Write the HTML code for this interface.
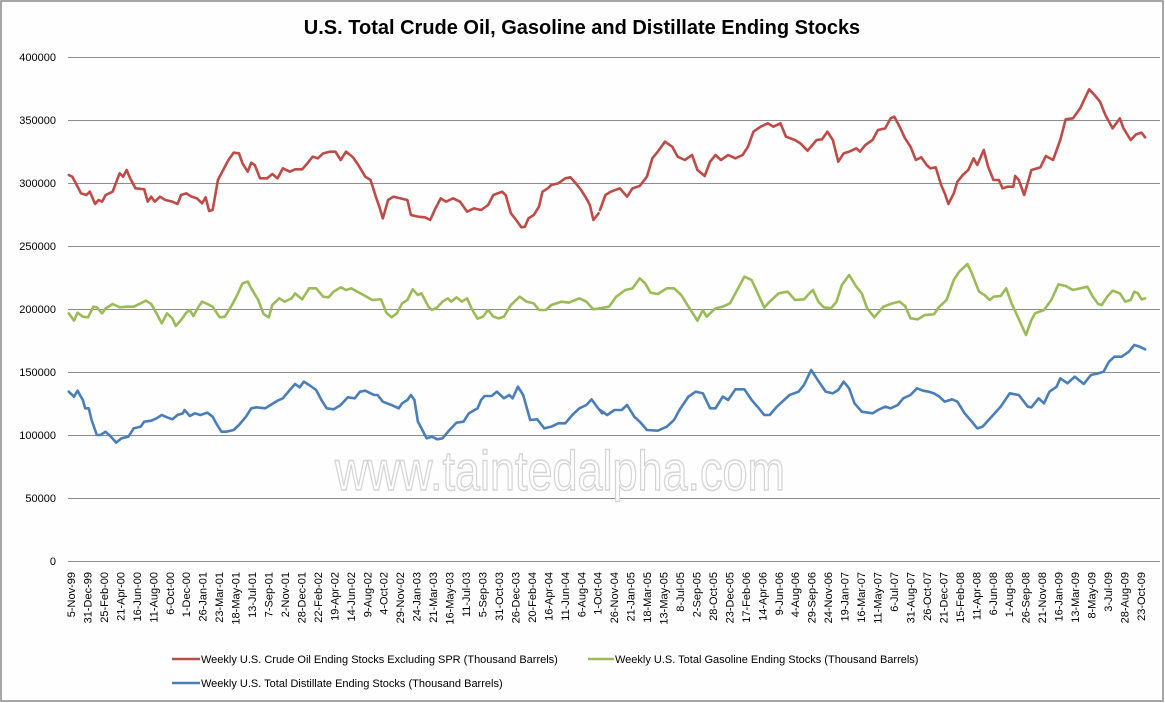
<!DOCTYPE html>
<html><head><meta charset="utf-8"><style>
html,body{margin:0;padding:0;background:#fff}
svg{display:block;font-family:"Liberation Sans",sans-serif}
</style></head><body>
<svg width="1165" height="703" viewBox="0 0 1165 703" xmlns="http://www.w3.org/2000/svg">
<rect x="1" y="1" width="1162" height="700" fill="#fdfefd" stroke="#8a8a8a" stroke-width="1.5"/>
<text x="582" y="34" text-anchor="middle" font-size="20" font-weight="bold" fill="#000">U.S. Total Crude Oil, Gasoline and Distillate Ending Stocks</text>
<g stroke="#8c8c8c" stroke-width="1">
<line x1="68" x2="1160" y1="57.5" y2="57.5"/><line x1="68" x2="1160" y1="120.5" y2="120.5"/>
<line x1="68" x2="1160" y1="183.5" y2="183.5"/><line x1="68" x2="1160" y1="246.5" y2="246.5"/>
<line x1="68" x2="1160" y1="309.5" y2="309.5"/><line x1="68" x2="1160" y1="372.5" y2="372.5"/>
<line x1="68" x2="1160" y1="435.5" y2="435.5"/><line x1="68" x2="1160" y1="498.5" y2="498.5"/>
<line x1="68" x2="1160" y1="561.5" y2="561.5"/>
</g>
<g font-size="11" text-anchor="end" fill="#000">
<text x="56" y="61">400000</text><text x="56" y="124">350000</text><text x="56" y="187">300000</text>
<text x="56" y="250">250000</text><text x="56" y="313">200000</text><text x="56" y="376">150000</text>
<text x="56" y="439">100000</text><text x="56" y="502">50000</text><text x="56" y="565">0</text>
</g>
<text x="560" y="490" text-anchor="middle" font-size="56" textLength="450" lengthAdjust="spacingAndGlyphs" fill="#ffffff" stroke="#d4d4d4" stroke-width="1.5">www.taintedalpha.com</text>
<g fill="none" stroke-width="2.6" stroke-linejoin="round" stroke-linecap="round">
<g transform="translate(60,80) scale(0.3509,0.33333)">
<polyline vector-effect="non-scaling-stroke" stroke="#be4b48" points="25,285 35,290 50,320 60,340 75,345 85,335 100,372 110,360 120,365 130,345 150,335 170,280 180,290 190,270 200,295 215,325 240,328 250,365 260,350 270,365 285,350 300,360 320,365 335,372 345,345 360,340 375,350 390,355 405,370 415,352 425,393 435,390 450,300 465,270 480,240 495,218 510,220 520,250 535,275 545,248 555,255 570,295 590,295 605,282 620,295 635,265 655,275 670,268 690,268 705,250 720,230 735,235 750,220 770,215 785,215 800,240 815,215 835,232 850,255 870,290 885,300 900,350 910,380 920,415 935,360 950,350 970,355 990,360 1000,405 1020,410 1040,412 1055,420 1070,385 1085,355 1100,365 1120,355 1140,365 1160,395 1180,385 1200,390 1220,375 1235,345 1260,335 1270,345 1285,400 1300,420 1315,442 1325,440 1335,415 1350,405 1365,380 1375,335 1390,325 1400,315 1420,310 1440,295 1455,292 1470,310 1485,330 1500,355 1510,375 1520,420 1535,400"/>
<polyline vector-effect="non-scaling-stroke" stroke="#9bbb59" points="25,700 40,722 50,698 65,710 80,712 95,680 105,682 120,700 130,685 150,672 170,682 190,680 210,680 245,662 260,672 275,700 290,730 305,700 320,715 330,738 345,720 360,698 370,690 380,708 395,680 405,665 420,672 435,680 455,712 470,710 490,675 505,645 520,610 535,605 545,625 565,660 580,702 595,712 605,675 625,655 640,665 660,655 670,640 690,658 710,625 730,625 750,650 765,652 780,635 800,622 815,630 830,625 870,648 890,660 915,658 930,698 945,712 960,700 975,670 990,660 1005,628 1020,645 1030,640 1050,680 1060,690 1075,682 1090,665 1105,655 1115,665 1130,652 1145,665 1160,655 1175,690 1190,716 1205,710 1220,690 1235,710 1250,715 1265,710 1285,675 1310,650 1330,665 1350,670 1365,690 1385,690 1400,675 1430,665 1450,668 1480,655 1500,665 1520,688 1540,685"/>
<polyline vector-effect="non-scaling-stroke" stroke="#4a7ebb" points="25,935 40,950 50,932 65,960 72,985 82,985 90,1020 105,1065 115,1065 130,1055 145,1070 160,1088 175,1075 195,1070 210,1045 230,1040 240,1025 260,1022 275,1015 290,1005 305,1012 320,1018 335,1005 350,1000 355,990 370,1008 385,1000 400,1005 420,998 435,1010 445,1030 460,1055 475,1055 495,1050 510,1035 530,1010 545,985 560,982 585,985 600,975 620,962 635,955 655,930 670,912 683,922 695,905 710,915 730,930 745,960 760,985 780,988 800,975 820,952 840,955 855,935 870,932 885,940 895,945 905,945 920,965 945,975 965,985 975,970 990,960 1000,945 1010,960 1020,1025 1035,1055 1045,1075 1060,1070 1075,1078 1090,1075 1110,1050 1130,1028 1150,1025 1165,1000 1190,985 1200,960 1210,948 1230,948 1245,935 1265,955 1280,945 1290,955 1305,920 1320,945 1340,1020 1360,1018 1380,1045 1400,1040 1420,1030 1440,1030 1460,1005 1480,985 1500,975 1515,958 1530,980 1545,1000"/>
</g>
<g transform="translate(600,80) scale(0.361,0.33333)">
<polyline vector-effect="non-scaling-stroke" stroke="#be4b48" points="0,390 15,345 30,335 55,325 75,350 90,325 110,318 130,290 145,235 160,215 180,185 200,200 215,230 235,240 255,225 270,270 290,288 305,245 320,225 335,240 355,225 375,235 395,225 410,200 425,155 445,140 465,130 480,140 500,130 515,170 540,180 555,190 575,212 600,180 615,178 630,155 645,180 660,245 675,220 690,215 710,205 720,215 735,195 755,180 770,150 790,145 805,115 815,110 830,140 845,175 860,200 875,240 890,232 905,255 915,265 930,262 945,315 955,340 965,372 980,340 990,305 1005,285 1020,270 1035,235 1045,255 1063,210 1075,260 1090,300 1105,300 1115,325 1130,320 1145,320 1150,288 1160,300 1175,345 1195,270 1220,262 1235,228 1255,240 1275,180 1290,118 1310,115 1330,85 1355,28 1370,45 1385,65 1400,105 1420,145 1440,115 1450,145 1470,180 1485,163 1500,158 1510,172"/>
<polyline vector-effect="non-scaling-stroke" stroke="#9bbb59" points="0,685 25,680 45,650 70,630 90,625 110,595 125,610 140,638 160,642 185,625 205,625 225,645 245,680 260,705 270,722 285,690 295,710 320,685 340,680 360,670 380,630 400,590 420,600 435,635 455,683 470,665 495,640 520,635 540,660 565,658 580,640 590,630 605,665 620,682 640,685 655,665 670,615 690,585 710,620 725,640 740,685 760,712 785,680 810,670 830,665 845,678 860,715 880,718 900,705 925,703 940,680 960,660 980,600 995,575 1018,552 1030,580 1050,635 1065,645 1080,660 1090,650 1110,648 1125,625 1140,670 1155,705 1180,765 1195,720 1205,700 1230,690 1250,660 1270,613 1290,618 1310,630 1330,625 1350,620 1365,650 1380,672 1390,675 1405,650 1420,632 1440,640 1455,665 1470,660 1480,635 1490,640 1500,658 1510,655"/>
<polyline vector-effect="non-scaling-stroke" stroke="#4a7ebb" points="0,990 20,1005 40,990 60,990 75,975 95,1010 110,1025 130,1050 160,1052 185,1040 205,1020 220,990 245,950 265,935 285,940 305,985 320,985 340,950 355,960 375,928 400,928 420,960 440,985 455,1005 470,1005 490,980 510,960 525,945 550,935 565,915 585,870 600,895 625,935 645,940 660,930 675,905 690,925 705,970 725,995 755,1000 770,990 790,980 805,985 825,975 840,955 860,945 878,925 895,932 910,935 925,940 940,950 955,965 975,958 990,965 1010,1000 1030,1025 1045,1045 1060,1040 1085,1010 1110,980 1135,940 1160,945 1185,980 1195,982 1215,955 1230,970 1245,935 1265,920 1275,895 1295,910 1315,890 1340,912 1360,885 1380,880 1395,875 1410,845 1425,830 1445,830 1465,815 1480,795 1495,800 1510,808"/>
</g>
</g>
<g font-size="11" text-anchor="end" fill="#000">
<text transform="translate(75,572) rotate(-90)">5-Nov-99</text>
<text transform="translate(91.5,572) rotate(-90)">31-Dec-99</text>
<text transform="translate(107.9,572) rotate(-90)">25-Feb-00</text>
<text transform="translate(124.4,572) rotate(-90)">21-Apr-00</text>
<text transform="translate(140.8,572) rotate(-90)">16-Jun-00</text>
<text transform="translate(157.3,572) rotate(-90)">11-Aug-00</text>
<text transform="translate(173.8,572) rotate(-90)">6-Oct-00</text>
<text transform="translate(190.2,572) rotate(-90)">1-Dec-00</text>
<text transform="translate(206.7,572) rotate(-90)">26-Jan-01</text>
<text transform="translate(223.1,572) rotate(-90)">23-Mar-01</text>
<text transform="translate(239.6,572) rotate(-90)">18-May-01</text>
<text transform="translate(256.1,572) rotate(-90)">13-Jul-01</text>
<text transform="translate(272.5,572) rotate(-90)">7-Sep-01</text>
<text transform="translate(289,572) rotate(-90)">2-Nov-01</text>
<text transform="translate(305.4,572) rotate(-90)">28-Dec-01</text>
<text transform="translate(321.9,572) rotate(-90)">22-Feb-02</text>
<text transform="translate(338.4,572) rotate(-90)">19-Apr-02</text>
<text transform="translate(354.8,572) rotate(-90)">14-Jun-02</text>
<text transform="translate(371.3,572) rotate(-90)">9-Aug-02</text>
<text transform="translate(387.7,572) rotate(-90)">4-Oct-02</text>
<text transform="translate(404.2,572) rotate(-90)">29-Nov-02</text>
<text transform="translate(420.7,572) rotate(-90)">24-Jan-03</text>
<text transform="translate(437.1,572) rotate(-90)">21-Mar-03</text>
<text transform="translate(453.6,572) rotate(-90)">16-May-03</text>
<text transform="translate(470,572) rotate(-90)">11-Jul-03</text>
<text transform="translate(486.5,572) rotate(-90)">5-Sep-03</text>
<text transform="translate(503,572) rotate(-90)">31-Oct-03</text>
<text transform="translate(519.4,572) rotate(-90)">26-Dec-03</text>
<text transform="translate(535.9,572) rotate(-90)">20-Feb-04</text>
<text transform="translate(552.3,572) rotate(-90)">16-Apr-04</text>
<text transform="translate(568.8,572) rotate(-90)">11-Jun-04</text>
<text transform="translate(585.3,572) rotate(-90)">6-Aug-04</text>
<text transform="translate(601.7,572) rotate(-90)">1-Oct-04</text>
<text transform="translate(618.2,572) rotate(-90)">26-Nov-04</text>
<text transform="translate(634.6,572) rotate(-90)">21-Jan-05</text>
<text transform="translate(651.1,572) rotate(-90)">18-Mar-05</text>
<text transform="translate(667.6,572) rotate(-90)">13-May-05</text>
<text transform="translate(684,572) rotate(-90)">8-Jul-05</text>
<text transform="translate(700.5,572) rotate(-90)">2-Sep-05</text>
<text transform="translate(716.9,572) rotate(-90)">28-Oct-05</text>
<text transform="translate(733.4,572) rotate(-90)">23-Dec-05</text>
<text transform="translate(749.9,572) rotate(-90)">17-Feb-06</text>
<text transform="translate(766.3,572) rotate(-90)">14-Apr-06</text>
<text transform="translate(782.8,572) rotate(-90)">9-Jun-06</text>
<text transform="translate(799.2,572) rotate(-90)">4-Aug-06</text>
<text transform="translate(815.7,572) rotate(-90)">29-Sep-06</text>
<text transform="translate(832.2,572) rotate(-90)">24-Nov-06</text>
<text transform="translate(848.6,572) rotate(-90)">19-Jan-07</text>
<text transform="translate(865.1,572) rotate(-90)">16-Mar-07</text>
<text transform="translate(881.5,572) rotate(-90)">11-May-07</text>
<text transform="translate(898,572) rotate(-90)">6-Jul-07</text>
<text transform="translate(914.5,572) rotate(-90)">31-Aug-07</text>
<text transform="translate(930.9,572) rotate(-90)">26-Oct-07</text>
<text transform="translate(947.4,572) rotate(-90)">21-Dec-07</text>
<text transform="translate(963.8,572) rotate(-90)">15-Feb-08</text>
<text transform="translate(980.3,572) rotate(-90)">11-Apr-08</text>
<text transform="translate(996.8,572) rotate(-90)">6-Jun-08</text>
<text transform="translate(1013.2,572) rotate(-90)">1-Aug-08</text>
<text transform="translate(1029.7,572) rotate(-90)">26-Sep-08</text>
<text transform="translate(1046.1,572) rotate(-90)">21-Nov-08</text>
<text transform="translate(1062.6,572) rotate(-90)">16-Jan-09</text>
<text transform="translate(1079.1,572) rotate(-90)">13-Mar-09</text>
<text transform="translate(1095.5,572) rotate(-90)">8-May-09</text>
<text transform="translate(1112,572) rotate(-90)">3-Jul-09</text>
<text transform="translate(1128.4,572) rotate(-90)">28-Aug-09</text>
<text transform="translate(1144.9,572) rotate(-90)">23-Oct-09</text>
</g>
<g stroke-width="2.6">
<line x1="172" x2="200" y1="659" y2="659" stroke="#be4b48"/>
<line x1="588" x2="614" y1="659" y2="659" stroke="#9bbb59"/>
<line x1="172" x2="200" y1="683" y2="683" stroke="#4a7ebb"/>
</g>
<g font-size="11" fill="#000">
<text x="201" y="663">Weekly U.S. Crude Oil Ending Stocks Excluding SPR  (Thousand Barrels)</text>
<text x="615" y="663">Weekly U.S. Total Gasoline Ending Stocks  (Thousand Barrels)</text>
<text x="201" y="687">Weekly U.S. Total Distillate  Ending Stocks  (Thousand Barrels)</text>
</g>
</svg>
</body></html>
